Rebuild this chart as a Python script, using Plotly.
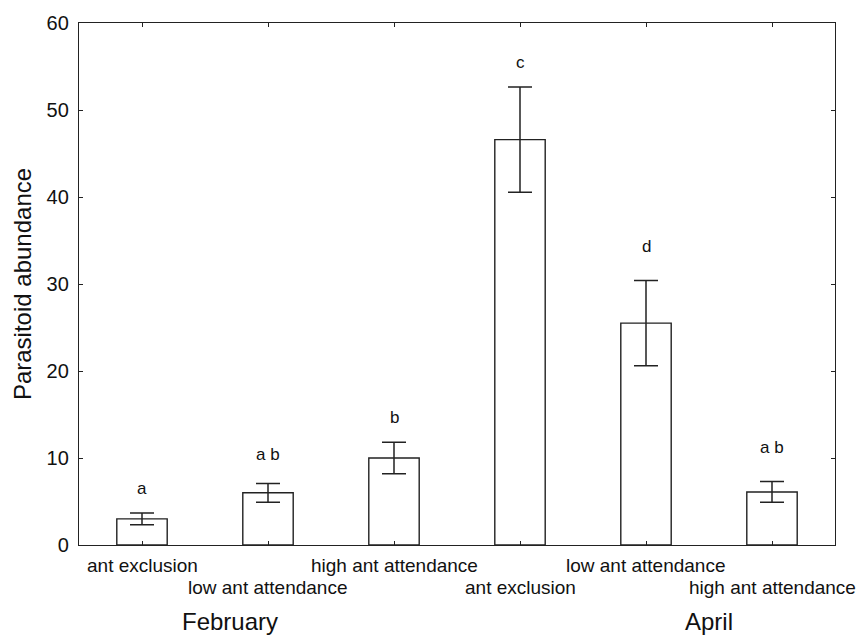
import plotly.graph_objects as go

categories = ["ant exclusion", "low ant attendance", "high ant attendance",
              "ant exclusion", "low ant attendance", "high ant attendance"]
means = [3.0, 6.0, 10.0, 46.6, 25.5, 6.1]
errors = [0.67, 1.08, 1.82, 6.05, 4.9, 1.2]
letters = ["a", "a b", "b", "c", "d", "a b"]
letter_y = [6.5, 10.4, 14.7, 55.5, 34.3, 11.2]
months = ["February", "April"]
month_x = [0.7, 4.5]

x_idx = list(range(len(categories)))
FONT = "Liberation Sans, Arial, sans-serif"

fig = go.Figure()
fig.add_trace(go.Bar(
    x=x_idx, y=means, width=0.4,
    marker=dict(color="white", line=dict(color="#222", width=1.4)),
    error_y=dict(type="data", array=errors, visible=True,
                 color="#222", thickness=1.5, width=12),
    showlegend=False,
))

ann = []
for i, (t, ly) in enumerate(zip(letters, letter_y)):
    ann.append(dict(x=i, y=ly, xref="x", yref="y", text=t, showarrow=False,
                    font=dict(size=17, color="#111", family=FONT)))
plot_h = 639 - 17 - 94
for i, c in enumerate(categories):
    off = 20.7 if i % 2 == 0 else 42.7
    ann.append(dict(x=i, y=-off / plot_h, xref="x", yref="paper", text=c,
                    showarrow=False, yanchor="middle",
                    font=dict(size=19, color="#111", family=FONT)))
for m, mx in zip(months, month_x):
    ann.append(dict(x=mx, y=-77.5 / plot_h, xref="x", yref="paper", text=m,
                    showarrow=False, yanchor="middle",
                    font=dict(size=24, color="#111", family=FONT)))

fig.update_layout(
    width=858, height=639,
    margin=dict(l=79, r=23, t=17, b=94),
    paper_bgcolor="white", plot_bgcolor="white",
    font=dict(family=FONT, color="#111"),
    annotations=ann,
    xaxis=dict(range=[-0.5, 5.5], tickvals=x_idx, showticklabels=False,
               ticks="inside", ticklen=4, tickcolor="#222", tickwidth=1.2,
               showline=True, linecolor="#222", linewidth=1.4, mirror="ticks",
               showgrid=False, zeroline=False),
    yaxis=dict(range=[0, 60], dtick=10, ticks="inside", ticklen=4,
               tickcolor="#222", tickwidth=1.2,
               showline=True, linecolor="#222", linewidth=1.4, mirror="ticks",
               showgrid=False, zeroline=False,
               tickfont=dict(size=20, family=FONT, color="#111"),
               ticklabelstandoff=5,
               title=dict(text="Parasitoid abundance", standoff=8,
                          font=dict(size=24, family=FONT, color="#111"))),
)

fig.write_html("out.html")
